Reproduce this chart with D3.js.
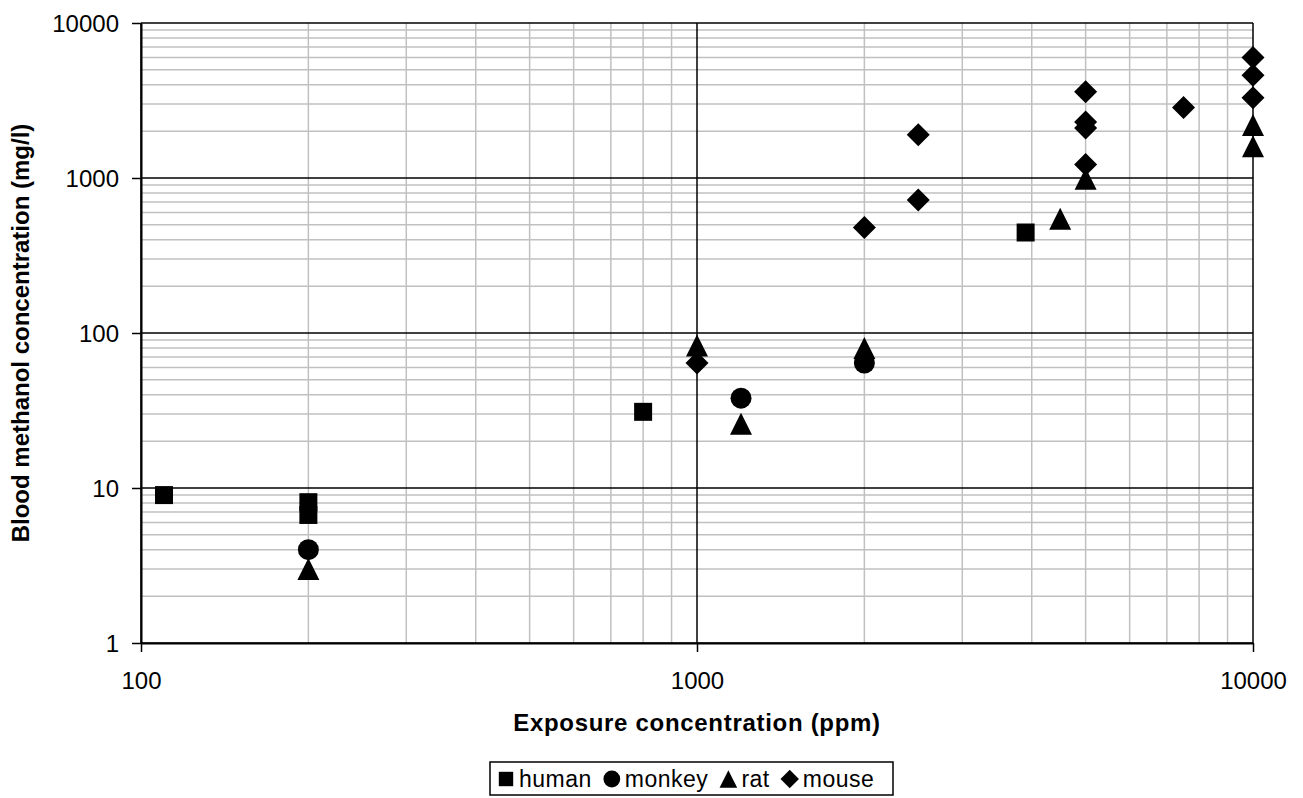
<!DOCTYPE html>
<html>
<head>
<meta charset="utf-8">
<script src="https://cdn.jsdelivr.net/npm/d3@7"></script>
<style>
  body { margin: 0; background: #fff; }
  svg { font-family: "Liberation Sans", Arial, sans-serif; }
</style>
</head>
<body>
<div id="chart"></div>
<script>
// values
var humanX = [110, 200, 200, 800, 3900];
var humanY = [9, 8.1, 6.7, 31, 445];
var monkeyX = [200, 1200, 2000];
var monkeyY = [4, 38, 64];
var ratX = [200, 1000, 1200, 2000, 4500, 5000, 10000, 10000];
var ratY = [3, 83, 26, 80, 545, 990, 2200, 1600];
var mouseX = [1000, 2000, 2500, 2500, 5000, 5000, 5000, 5000, 7500, 10000, 10000, 10000];
var mouseY = [64, 480, 720, 1900, 3600, 2300, 2100, 1220, 2850, 6000, 4600, 3300];
var seriesNames = ["human", "monkey", "rat", "mouse"];
var xTicks = [100, 1000, 10000];
var yTicks = [1, 10, 100, 1000, 10000];

var margin = {top: 23, right: 50, bottom: 155, left: 141},
    width = 1303 - margin.left - margin.right,
    height = 798 - margin.top - margin.bottom;

var x = d3.scaleLog().domain([100, 10000]).range([0, width]);
var y = d3.scaleLog().domain([1, 10000]).range([height, 0]);

// marker shapes, size = full width in px
var sq = {draw: function(c, s) { var h = s / 2; c.rect(-h, -h, s, s); }};
var circ = {draw: function(c, s) { c.moveTo(s / 2, 0); c.arc(0, 0, s / 2, 0, 2 * Math.PI); }};
var tri = {draw: function(c, s) { var h = s / 2; c.moveTo(0, -h); c.lineTo(h, h); c.lineTo(-h, h); c.closePath(); }};
var dia = {draw: function(c, s) { var h = s / 2; c.moveTo(0, -h); c.lineTo(h, 0); c.lineTo(0, h); c.lineTo(-h, 0); c.closePath(); }};

var series = [
  {name: seriesNames[0], xs: humanX, ys: humanY, type: sq, size: 18},
  {name: seriesNames[1], xs: monkeyX, ys: monkeyY, type: circ, size: 21},
  {name: seriesNames[2], xs: ratX, ys: ratY, type: tri, size: 22},
  {name: seriesNames[3], xs: mouseX, ys: mouseY, type: dia, size: 23}
];

var svg = d3.select("#chart").append("svg")
    .attr("width", 1303)
    .attr("height", 798)
  .append("g")
    .attr("transform", "translate(" + margin.left + "," + margin.top + ")");

var minorX = x.ticks().filter(function(d) { return xTicks.indexOf(d) < 0; });
var minorY = y.ticks().filter(function(d) { return yTicks.indexOf(d) < 0; });

// minor grid
svg.append("g").selectAll("line").data(minorX).enter().append("line")
    .attr("x1", function(d) { return x(d); }).attr("x2", function(d) { return x(d); })
    .attr("y1", 0).attr("y2", height)
    .attr("stroke", "#c0c0c0").attr("stroke-width", 1.5);
svg.append("g").selectAll("line").data(minorY).enter().append("line")
    .attr("y1", function(d) { return y(d); }).attr("y2", function(d) { return y(d); })
    .attr("x1", 0).attr("x2", width)
    .attr("stroke", "#c0c0c0").attr("stroke-width", 1.5);

// major grid
svg.append("g").selectAll("line").data(xTicks).enter().append("line")
    .attr("x1", function(d) { return x(d); }).attr("x2", function(d) { return x(d); })
    .attr("y1", 0).attr("y2", height)
    .attr("stroke", "#000").attr("stroke-width", 1.5);
svg.append("g").selectAll("line").data(yTicks).enter().append("line")
    .attr("y1", function(d) { return y(d); }).attr("y2", function(d) { return y(d); })
    .attr("x1", 0).attr("x2", width)
    .attr("stroke", "#000").attr("stroke-width", 1.5);

// axes
var xAxis = svg.append("g")
    .attr("transform", "translate(0," + height + ")")
    .call(d3.axisBottom(x).tickValues(xTicks).tickFormat(d3.format("d")).tickSize(9).tickSizeOuter(0).tickPadding(20));
var yAxis = svg.append("g")
    .call(d3.axisLeft(y).tickValues(yTicks).tickFormat(d3.format("d")).tickSize(9).tickSizeOuter(0).tickPadding(13));
[xAxis, yAxis].forEach(function(a) {
  a.select(".domain").attr("stroke", "#000").attr("stroke-width", 2);
  a.selectAll(".tick line").attr("stroke", "#000").attr("stroke-width", 1.5);
  a.selectAll("text").style("font-size", "24px").attr("fill", "#000");
});
yAxis.selectAll("text").attr("dy", "0.35em");

// points
series.forEach(function(s) {
  svg.append("g").selectAll("path")
    .data(s.xs.map(function(v, i) { return [v, s.ys[i]]; }))
    .enter().append("path")
    .attr("transform", function(d) { return "translate(" + x(d[0]) + "," + y(d[1]) + ")"; })
    .attr("d", d3.symbol().type(s.type).size(s.size))
    .attr("fill", "#000");
});

// axis titles
svg.append("text")
    .attr("x", width / 2).attr("y", height + 88)
    .attr("text-anchor", "middle")
    .style("font-size", "24px").style("font-weight", "bold").style("letter-spacing", "0.7px")
    .text("Exposure concentration (ppm)");
svg.append("text")
    .attr("transform", "translate(" + (-112) + "," + (height / 2) + ") rotate(-90)")
    .attr("text-anchor", "middle")
    .style("font-size", "24px").style("font-weight", "bold")
    .text("Blood methanol concentration (mg/l)");

// legend
var lg = svg.append("g").attr("transform", "translate(" + (490 - margin.left) + "," + (762 - margin.top) + ")");
lg.append("rect").attr("width", 403).attr("height", 33)
    .attr("fill", "#fff").attr("stroke", "#000").attr("stroke-width", 1.5);
var lx = 16;
series.forEach(function(s) {
  var it = lg.append("g").attr("transform", "translate(" + lx + ",17)");
  it.append("path").attr("d", d3.symbol().type(s.type).size(s.size * 0.8)).attr("fill", "#000");
  var t = it.append("text").attr("x", 13).attr("y", 8)
      .style("font-size", "23px").style("letter-spacing", "0.5px").text(s.name);
  lx += 13 + t.node().getComputedTextLength() + 20;
});
</script>
</body>
</html>
